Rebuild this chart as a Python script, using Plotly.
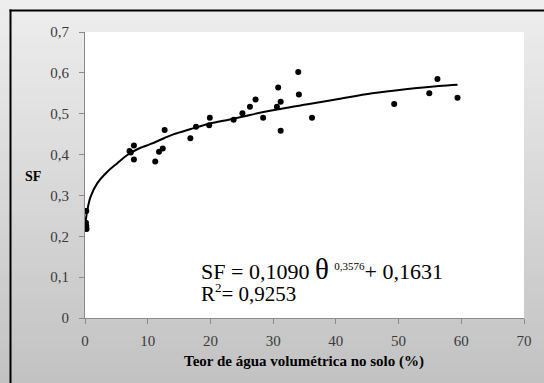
import plotly.graph_objects as go

# Observed data (theta %, SF)
theta = [0.2, 0.15, 0.2, 0.25, 7.1, 7.3, 7.8, 7.8, 11.2, 11.8, 12.4, 12.7, 16.8, 17.7,
         19.8, 19.9, 23.7, 25.1, 26.3, 27.2, 28.4, 30.6, 30.8, 31.2, 31.2, 34.0, 34.1,
         36.2, 49.3, 54.9, 56.2, 59.4]
sf = [0.262, 0.233, 0.225, 0.218, 0.409, 0.405, 0.422, 0.388, 0.383, 0.407, 0.415, 0.460,
      0.440, 0.468, 0.472, 0.490, 0.485, 0.501, 0.517, 0.535, 0.490, 0.517, 0.564, 0.529,
      0.458, 0.602, 0.547, 0.490, 0.524, 0.550, 0.585, 0.539]

# Trend curve
curve_x = [0.1, 0.37, 0.9, 1.97, 3.56, 5.15, 6.75, 8.35, 10.5, 12.6, 14.2, 16.75, 19.9,
           23.1, 26.3, 29.5, 32.7, 35.5, 40.4, 45.8, 51.1, 56.4, 59.4]
curve_y = [0.236, 0.264, 0.297, 0.330, 0.358, 0.379, 0.399, 0.413, 0.426, 0.440, 0.450,
           0.462, 0.476, 0.486, 0.497, 0.507, 0.516, 0.523, 0.536, 0.550, 0.560, 0.568, 0.571]

W, H = 544, 383
L, R, T, B = 85, 20, 32, 65
pw, ph = W - L - R, H - T - B

def px(x):
    return (x - L) / pw

def py(y):
    return (H - B - y) / ph

fig = go.Figure()
fig.add_trace(go.Scatter(x=curve_x, y=curve_y, mode="lines",
                         line=dict(color="black", width=2, shape="spline", smoothing=1.0),
                         hoverinfo="skip", showlegend=False))
fig.add_trace(go.Scatter(x=theta, y=sf, mode="markers",
                         marker=dict(color="black", size=6), showlegend=False))

shapes = []
# vertical gradient background
n = 60
top_c, bot_c = 238, 194
for i in range(n):
    y0 = i * H / n
    y1 = min((i + 1) * H / n + 0.5, H)
    c = round(top_c + (bot_c - top_c) * (i + 0.5) / n)
    shapes.append(dict(type="rect", xref="paper", yref="paper", layer="below",
                       x0=px(0), x1=px(W), y0=py(y0), y1=py(y1),
                       fillcolor=f"rgb({c},{c},{c})", line=dict(width=0)))
# white plot area
shapes.append(dict(type="rect", xref="paper", yref="paper", layer="below",
                   x0=0, x1=1, y0=0, y1=1, fillcolor="white", line=dict(width=0)))
# outer frame (top and left edges visible)
shapes.append(dict(type="line", xref="paper", yref="paper", layer="above",
                   x0=px(9.5), x1=px(W), y0=py(10.5), y1=py(10.5),
                   line=dict(color="black", width=2)))
shapes.append(dict(type="line", xref="paper", yref="paper", layer="above",
                   x0=px(10.5), x1=px(10.5), y0=py(9.5), y1=py(H),
                   line=dict(color="black", width=2)))

serif = "Liberation Serif, Times New Roman, serif"
annotations = [
    dict(x=18.2, y=(318 - 268.5) / 408.6, xref="x", yref="y", xanchor="left", yanchor="middle",
         showarrow=False,
         text="SF = 0,1090 <span style='font-size:29px'>θ</span> <sup><span style='font-size:11px'>0,3576</span></sup>+ 0,1631",
         font=dict(family=serif, size=22, color="black")),
    dict(x=18.2, y=(318 - 292.5) / 408.6, xref="x", yref="y", xanchor="left", yanchor="middle",
         showarrow=False,
         text="R<sup><span style='font-size:13px'>2</span></sup>= 0,9253",
         font=dict(family=serif, size=21, color="black")),
    dict(x=px(33), y=py(176), xref="paper", yref="paper", xanchor="center", yanchor="middle",
         showarrow=False, text="<b>SF</b>", font=dict(family=serif, size=14, color="black")),
    dict(x=px(304), y=py(361), xref="paper", yref="paper", xanchor="center", yanchor="middle",
         showarrow=False, text="<b>Teor de água volumétrica no solo (%)</b>",
         font=dict(family=serif, size=15, color="black")),
]

axis_common = dict(showgrid=False, zeroline=False, showline=True, linecolor="#8a8a8a",
                   linewidth=1, ticks="outside", ticklen=5, tickcolor="#8a8a8a",
                   tickfont=dict(family=serif, size=15, color="#3a3a3a"))

fig.update_layout(
    width=W, height=H, margin=dict(l=L, r=R, t=T, b=B, pad=0),
    paper_bgcolor="rgb(215,215,215)", plot_bgcolor="rgba(0,0,0,0)",
    separators=",.",
    shapes=shapes, annotations=annotations,
    xaxis=dict(range=[0, 70], dtick=10, tick0=0, ticklabelstandoff=4, **axis_common),
    yaxis=dict(range=[0, 0.7], dtick=0.1, tick0=0, ticklabelstandoff=7, **axis_common),
)

fig.write_html("out.html", config={"displayModeBar": False})
